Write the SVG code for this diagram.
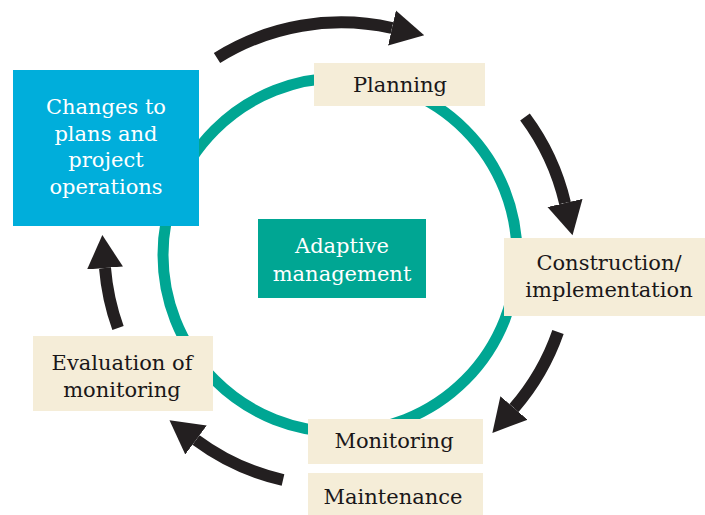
<svg xmlns="http://www.w3.org/2000/svg" width="705" height="515" viewBox="0 0 705 515">
<defs>
<style>
.lbl{font-family:"DejaVu Serif","Liberation Serif",serif;font-size:21px;text-anchor:middle}
.dark{fill:#1a1718}
.light{fill:#ffffff}
.beige{fill:#f5edd8}
.arr{fill:none;stroke:#231f20;stroke-width:12;stroke-linecap:butt}
</style>
<marker id="head" viewBox="0 -20 36 40" markerWidth="36" markerHeight="40" refX="0" refY="0" orient="auto" markerUnits="userSpaceOnUse">
<path d="M0,-18 L33,0 L0,18 Z" fill="#231f20"/>
</marker>
</defs>
<rect width="705" height="515" fill="#ffffff"/>
<circle id="ring" cx="340" cy="255" r="177" fill="none" stroke="#00a693" stroke-width="11"/>
<g id="connectors">
<path class="arr" d="M217,58 A234,234 0 0 1 392,28" marker-end="url(#head)"/>
<path class="arr" d="M525,117 A233,233 0 0 1 565,203" marker-end="url(#head)"/>
<path class="arr" d="M558,332 A233,233 0 0 1 514,408" marker-end="url(#head)"/>
<path class="arr" d="M283,480 A233,233 0 0 1 196,440" marker-end="url(#head)"/>
<path class="arr" d="M118,328 A233,233 0 0 1 105,268" marker-end="url(#head)"/>
</g>
<g id="changes">
<rect x="13" y="70" width="186" height="156" fill="#00aedb"/>
<text class="lbl light" x="106" y="114">Changes to</text>
<text class="lbl light" x="106" y="141">plans and</text>
<text class="lbl light" x="106" y="167">project</text>
<text class="lbl light" x="106" y="194">operations</text>
</g>
<g id="planning">
<rect class="beige" x="314" y="63" width="171" height="43"/>
<text class="lbl dark" x="400" y="92">Planning</text>
</g>
<g id="adaptive">
<rect x="258" y="219" width="168" height="79" fill="#00a693"/>
<text class="lbl light" x="342" y="253">Adaptive</text>
<text class="lbl light" x="342" y="281">management</text>
</g>
<g id="construction">
<rect class="beige" x="504" y="238" width="201" height="78"/>
<text class="lbl dark" x="609" y="270">Construction/</text>
<text class="lbl dark" x="609" y="297">implementation</text>
</g>
<g id="monitoring">
<rect class="beige" x="308" y="419" width="175" height="45"/>
<text class="lbl dark" x="394" y="448">Monitoring</text>
</g>
<g id="maintenance">
<rect class="beige" x="308" y="473" width="175" height="42"/>
<text class="lbl dark" x="393" y="504">Maintenance</text>
</g>
<g id="evaluation">
<rect class="beige" x="33" y="336" width="180" height="75"/>
<text class="lbl dark" x="122" y="370">Evaluation of</text>
<text class="lbl dark" x="122" y="397">monitoring</text>
</g>
</svg>
